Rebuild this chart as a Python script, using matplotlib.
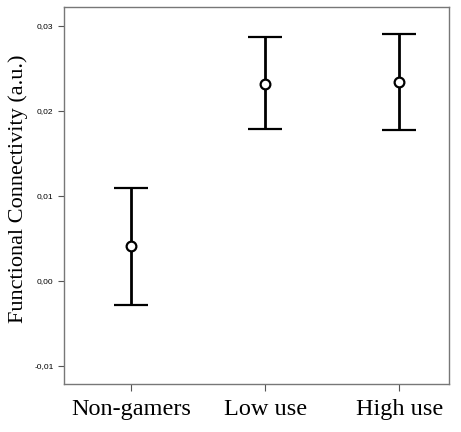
import numpy as np
import matplotlib
matplotlib.use("Agg")
import matplotlib.pyplot as plt
from matplotlib.ticker import FuncFormatter

groups = ["Non-gamers", "Low use", "High use"]
means = [0.0041, 0.0232, 0.0234]
upper = [0.01094, 0.0287, 0.0291]
lower = [-0.0028, 0.0179, 0.01776]

x = np.arange(1, len(groups) + 1)
means_a = np.array(means)
err = [means_a - np.array(lower), np.array(upper) - means_a]

fig = plt.figure(figsize=(4.61, 4.32), dpi=100)
ax = fig.add_axes([64/461, 1-384/432, (449-64)/461, (384-7)/432])

ax.errorbar(x, means, yerr=err, fmt="o", color="black", ecolor="black",
            elinewidth=2, capsize=12, capthick=2.2,
            markerfacecolor="white", markeredgecolor="black",
            markeredgewidth=1.6, markersize=7)

ax.set_xlim(0.5, 3.37)
ax.set_ylim(-0.01212, 0.03224)
ax.set_yticks([-0.01, 0.0, 0.01, 0.02, 0.03])
ax.yaxis.set_major_formatter(FuncFormatter(lambda v, p: f"{v:.2f}".replace(".", ",")))
ax.set_xticks(x)
ax.set_xticklabels(groups, family="Liberation Serif", fontsize=17.5)
ax.tick_params(axis="y", labelsize=6, length=4, width=0.8, color="#555555")
ax.tick_params(axis="x", length=5, width=0.8, color="#555555", pad=6)
for lab in ax.get_yticklabels():
    lab.set_family("Liberation Sans")
for s in ax.spines.values():
    s.set_color("#777777")
    s.set_linewidth(1)

ax.set_ylabel("Functional Connectivity (a.u.)", family="Liberation Serif",
              fontsize=16)
ax.yaxis.set_label_coords(-0.094, 0.517)

fig.savefig("out.png", dpi=100)
